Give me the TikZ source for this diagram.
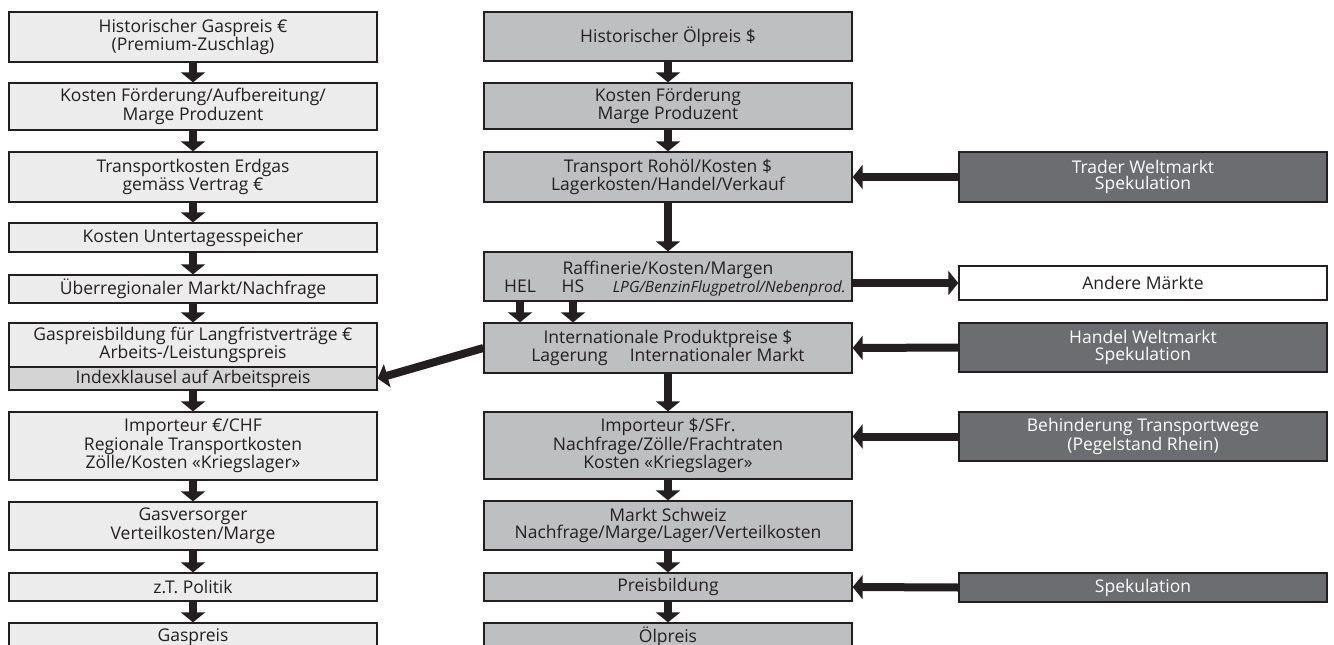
\documentclass[tikz,border=0pt]{standalone}
\usepackage{fontspec}
\setmainfont{Open Sans}
\usetikzlibrary{arrows.meta,positioning}
\definecolor{gaslight}{RGB}{236,236,236}
\definecolor{gasindex}{RGB}{212,212,213}
\definecolor{oilgray}{RGB}{190,191,193}
\definecolor{extdark}{RGB}{108,109,112}
\definecolor{lineblack}{RGB}{35,31,32}
\tikzstyle{flowarrow} = [line width=8pt, -{Triangle[width=24pt,length=10pt]}, color=lineblack]
\tikzstyle{gasbox} = [rectangle, minimum width=368pt, inner sep=0pt, align=center, draw=lineblack, fill=gaslight, line width=1.3pt, text=lineblack, font=\fontsize{17.5}{16.5}\selectfont]
\tikzstyle{oilbox} = [gasbox, fill=oilgray]
\tikzstyle{extbox} = [gasbox, fill=extdark, text=white]
\tikzstyle{boxtext} = [inner sep=0pt, text=lineblack, font=\fontsize{17.5}{16.5}\selectfont]

\begin{document}
\begin{tikzpicture}[x=1pt, y=-1pt]
\useasboundingbox (0,0) rectangle (1334,645);
\clip (0,0) rectangle (1334,645);
% Gas column
\node (g1) [gasbox, minimum height=50pt] at (193,37) {Historischer Gaspreis €\\(Premium-Zuschlag)};
\node (g2) [gasbox, minimum height=47pt] at (193,106.5) {Kosten Förderung/Aufbereitung/\\Marge Produzent};
\node (g3) [gasbox, minimum height=50pt] at (193,177) {Transportkosten Erdgas\\gemäss Vertrag €};
\node (g4) [gasbox, minimum height=29pt] at (193,237.5) {Kosten Untertagesspeicher};
\node (g5) [gasbox, minimum height=28pt] at (193,289) {Überregionaler Markt/Nachfrage};
\node (g6) [gasbox, minimum height=44pt] at (193,345) {Gaspreisbildung für Langfristverträge €\\Arbeits-/Leistungspreis};
\node (index) [gasbox, fill=gasindex, minimum height=23pt] at (193,378.5) {Indexklausel auf Arbeitspreis};
\node (g7) [gasbox, minimum height=68pt] at (193,446) {Importeur €/CHF\\Regionale Transportkosten\\Zölle/Kosten «Kriegslager»};
\node (g8) [gasbox, minimum height=48pt] at (193,526) {Gasversorger\\Verteilkosten/Marge};
\node (g9) [gasbox, minimum height=28pt] at (193,587) {z.T. Politik};
\node (g10) [gasbox, minimum height=28pt] at (193,637) {Gaspreis};

\draw[flowarrow] (g1.south) -- (g2.north);
\draw[flowarrow] (g2.south) -- (g3.north);
\draw[flowarrow] (g3.south) -- (g4.north);
\draw[flowarrow] (g4.south) -- (g5.north);
\draw[flowarrow] (g5.south) -- (g6.north);
\draw[flowarrow] (index.south) -- (g7.north);
\draw[flowarrow] (g7.south) -- (g8.north);
\draw[flowarrow] (g8.south) -- (g9.north);
\draw[flowarrow] (g9.south) -- (g10.north);

% Oil column
\node (o1) [oilbox, minimum height=49pt] at (668,36.5) {Historischer Ölpreis \$};
\node (o2) [oilbox, minimum height=46pt] at (668,106) {Kosten Förderung\\Marge Produzent};
\node (o3) [oilbox, minimum height=50pt] at (668,177) {Transport Rohöl/Kosten \$\\Lagerkosten/Handel/Verkauf};
\node (raff) [oilbox, minimum height=49pt] at (668,276.5) {};
\node (rafftitle) [boxtext, anchor=base] at (668,274) {Raffinerie/Kosten/Margen};
\node (hel) [boxtext, anchor=base] at (520,292) {HEL};
\node (hs) [boxtext, anchor=base] at (573,292) {HS};
\node (lpg) [boxtext, anchor=base east, font=\fontsize{15.5}{16}\selectfont\itshape] at (846,292) {LPG/BenzinFlugpetrol/Nebenprod.};
\node (intl) [oilbox, minimum height=50pt] at (668,348) {Internationale Produktpreise \$\\Lagerung\hspace{22pt}Internationaler Markt};
\node (o6) [oilbox, minimum height=67pt] at (668,445.5) {Importeur \$/SFr.\\Nachfrage/Zölle/Frachtraten\\Kosten «Kriegslager»};
\node (o7) [oilbox, minimum height=49pt] at (668,525.5) {Markt Schweiz\\Nachfrage/Marge/Lager/Verteilkosten};
\node (o8) [oilbox, minimum height=28pt] at (668,587) {Preisbildung};
\node (o9) [oilbox, minimum height=28pt] at (668,637) {Ölpreis};

\draw[flowarrow] (o1.south) -- (o2.north);
\draw[flowarrow] (o2.south) -- (o3.north);
\draw[flowarrow] (o3.south) -- (raff.north);
\draw[flowarrow] (raff.south -| hel) -- (intl.north -| hel);
\draw[flowarrow] (raff.south -| hs) -- (intl.north -| hs);
\draw[flowarrow] (intl.south) -- (o6.north);
\draw[flowarrow] (o6.south) -- (o7.north);
\draw[flowarrow] (o7.south) -- (o8.north);
\draw[flowarrow] (o8.south) -- (o9.north);
\draw[flowarrow] (intl.west) -- (index.east);

% Outside influences
\node (trader) [extbox, minimum height=50pt] at (1143,177) {Trader Weltmarkt\\Spekulation};
\node (andere) [gasbox, fill=white, minimum height=34pt] at (1143,283) {Andere Märkte};
\node (handel) [extbox, minimum height=49pt] at (1143,347.5) {Handel Weltmarkt\\Spekulation};
\node (behind) [extbox, minimum height=49pt] at (1143,436.5) {Behinderung Transportwege\\(Pegelstand Rhein)};
\node (spek) [extbox, minimum height=29pt] at (1143,587.5) {Spekulation};

\draw[flowarrow] (trader.west) -- (o3.east);
\draw[flowarrow] (raff.east |- andere.west) -- (andere.west);
\draw[flowarrow] (handel.west) -- (intl.east);
\draw[flowarrow] (behind.west) -- (behind.west -| o6.east);
\draw[flowarrow] (spek.west) -- (o8.east);
\end{tikzpicture}
\end{document}
